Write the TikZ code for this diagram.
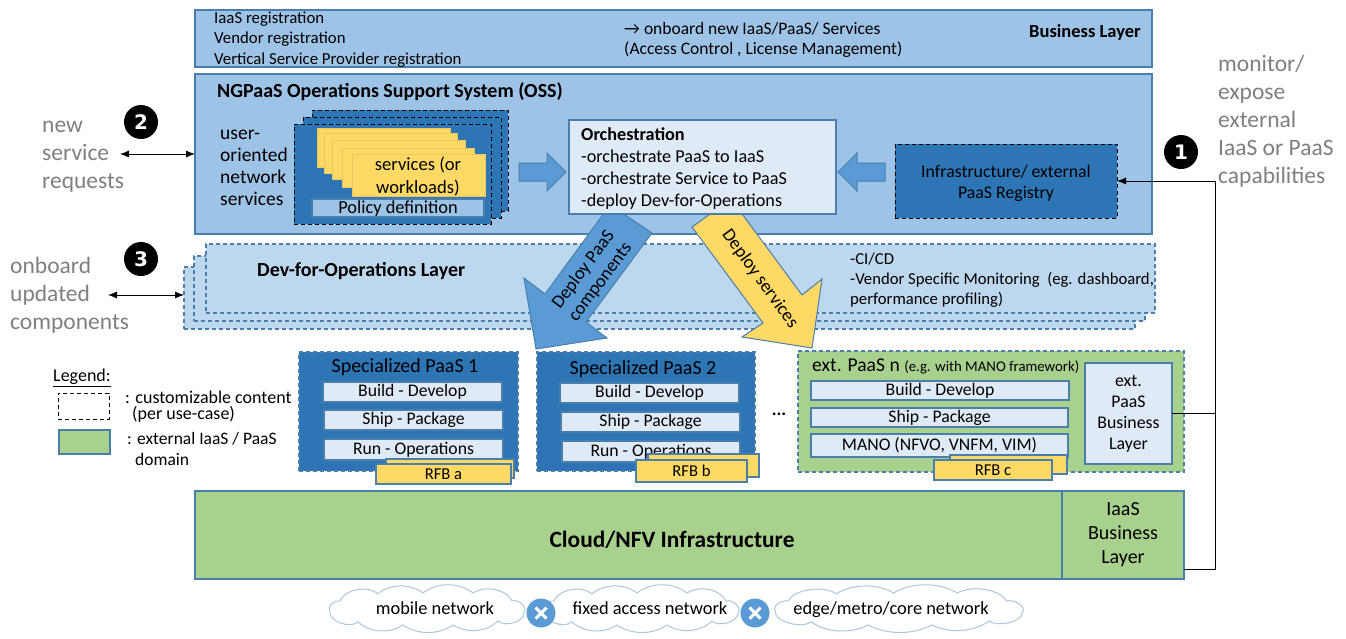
\documentclass[tikz,border=0pt]{standalone}
\usepackage{fontspec}
\setmainfont{Carlito}
\newfontfamily\numfont{DejaVu Sans}
\usetikzlibrary{arrows.meta}
\definecolor{sky}{HTML}{9DC3E6}
\definecolor{deep}{HTML}{2E75B6}
\definecolor{mid}{HTML}{5B9BD5}
\definecolor{pale}{HTML}{BDD7EE}
\definecolor{lite}{HTML}{DEEBF7}
\definecolor{gold}{HTML}{FFD966}
\definecolor{leaf}{HTML}{A9D18E}
\definecolor{rim}{HTML}{4A7EAD}
\definecolor{ash}{HTML}{7F7F7F}
\newcommand{\fs}[2]{\fontsize{#1}{#2}\selectfont}
\newcommand{\puffs}[3]{\draw[line width=1pt, draw=rim!45, fill=white, shift={(#1,#2)}, xscale=#3, yscale=0.8]
        (-98,3) to[bend left=70] (-88,-10) to[bend left=60] (-50,-19) to[bend left=45] (-5,-20) to[bend left=45] (45,-20)
        to[bend left=55] (84,-10) to[bend left=75] (96,5) to[bend left=70] (70,15) to[bend left=45] (25,20)
        to[bend left=40] (-25,20) to[bend left=45] (-70,16) to[bend left=75] cycle;}
\begin{document}
\begin{tikzpicture}[x=1pt,y=-1pt,>={Latex[length=9pt,width=7pt]}]
        \useasboundingbox (0,0) rectangle (1346,638);
        \tikzset{bx/.style={draw=rim, line width=1.3pt, anchor=north west, inner sep=0pt, outer sep=0pt, align=center, font=\fs{18}{22}},
                 dsh/.style={dash pattern=on 4pt off 3pt},
                 lbl/.style={anchor=west, inner sep=0pt, align=left, font=\fs{16.8}{20.5}},
                 gry/.style={anchor=west, inner sep=0pt, align=left, text=ash, font=\fs{23.5}{28}},
                 num/.style={circle, fill=black, text=white, minimum size=34pt, inner sep=0pt, font=\numfont\bfseries\fs{20}{20}},
                 svc/.style={bx, fill=gold, draw=gold!92!black, line width=0.6pt},
                 stp/.style={bx, fill=lite, font=\fs{17.7}{20}},
                 rfb/.style={bx, fill=gold, font=\fs{16.6}{20}},
                 stk/.style={bx, fill=deep, draw=black, line width=1pt, dsh},
                 pas/.style={bx, fill=deep, draw=rim, dsh},
                 dev/.style={bx, fill=pale, dsh},
                 blk/.style={fill=mid, draw=rim, line width=1pt},
                 ntx/.style={inner sep=0pt, font=\fs{18.4}{20}},
                 xsw/.style={circle, fill=mid, minimum size=29pt, inner sep=0pt}}
        %
        % business layer
        \draw (195,10) node[bx, fill=sky, minimum width=957, minimum height=57](BL){};
        \draw (214,39.5) node[lbl](R){IaaS registration\\Vendor registration\\Vertical Service Provider registration};
        \draw (624,40) node[lbl, font=\fs{17.5}{20}](O){→ onboard new IaaS/PaaS/ Services\\(Access Control , License Management)};
        \draw (1029,32) node[lbl, font=\bfseries\fs{18.5}{20}](BT){Business Layer};
        %
        % oss
        \draw (195,74) node[bx, fill=sky, minimum width=957, minimum height=160](OSS){};
        \draw (217,92) node[lbl, font=\bfseries\fs{20}{20}](OT){NGPaaS Operations Support System (OSS)};
        \draw (220,168) node[lbl, font=\fs{19.5}{21.8}](U){user-\\oriented\\network\\services};
        %
        \draw (312,110) node[stk, minimum width=196, minimum height=101](S3){};
        \draw (303,117) node[stk, minimum width=198, minimum height=101](S2){};
        \draw (294,124) node[stk, minimum width=197, minimum height=100](S1){};
        \draw (317,128) node[svc, minimum width=133, minimum height=39](W4){};
        \draw (324,133) node[svc, minimum width=133, minimum height=40](W3){};
        \draw (332,140) node[svc, minimum width=133, minimum height=39](W2){};
        \draw (342,148) node[svc, minimum width=132, minimum height=39](W1){};
        \draw (352,154) node[svc, minimum width=133, minimum height=42](W0){};
        \draw (418,176) node[inner sep=0pt, align=center, font=\fs{18.6}{23}](WT){services (or\\workloads)};
        \draw (312,199) node[bx, fill=sky, minimum width=172, minimum height=18](PD){};
        \draw (398,209) node[inner sep=0pt, font=\fs{18.4}{20}](PDT){Policy definition};
        %
        \draw[blk] (519,163) -- (547,163) -- (547,153) -- (566,172) -- (547,191) -- (547,181) -- (519,181) -- cycle;
        \draw[blk] (885,163) -- (857,163) -- (857,153) -- (838,172) -- (857,191) -- (857,181) -- (885,181) -- cycle;
        \draw (895,144) node[bx, fill=deep, draw=black, line width=1pt, dsh, minimum width=222, minimum height=74](REG){};
        \draw (1006,183) node[inner sep=0pt, align=center, font=\fs{17.8}{21}](REGT){Infrastructure/ external\\PaaS Registry};
        %
        % dev-for-operations layer
        \draw (184,267) node[dev, minimum width=951, minimum height=62](D3){};
        \draw (194,256) node[dev, minimum width=951, minimum height=65](D2){};
        \draw (206,244) node[dev, minimum width=949, minimum height=69](D1){};
        \draw (257,271) node[lbl, font=\bfseries\fs{20}{20}](DT){Dev-for-Operations Layer};
        \draw (850,280) node[lbl, font=\fs{16.7}{20}](DL){-CI/CD\\-Vendor Specific Monitoring~ (eg. dashboard,\\performance profiling)};
        %
        % deploy arrows
        \draw[blk] (610,205) -- (652,233) -- (586,322) -- (607,338) -- (536,349) -- (524,278) -- (545,294) -- cycle;
        \draw[fill=gold, draw=rim, line width=1pt] (692,227) -- (731,199) -- (802,295) -- (822,279) -- (812,348) -- (742,337) -- (763,323) -- cycle;
        \draw (592,276) node[rotate=53.5, inner sep=0pt, align=center, font=\fs{18.5}{21}](DP){Deploy PaaS\\components};
        \draw (760,279) node[rotate=-54, inner sep=0pt, font=\fs{18.5}{21}](DS){Deploy services};
        %
        % orchestration
        \draw (569,120) node[bx, fill=lite, minimum width=267, minimum height=94](ORC){};
        \draw (581,168.5) node[lbl, font=\fs{18.2}{21.8}](OX){\textbf{Orchestration}\\-orchestrate PaaS to IaaS\\-orchestrate Service to PaaS\\-deploy Dev-for-Operations};
        %
        % paas 1
        \draw (299,352) node[pas, minimum width=219, minimum height=119](P1){};
        \draw (405,367) node[inner sep=0pt, font=\fs{20}{20}](P1T){Specialized PaaS 1};
        \draw (323,382) node[stp, minimum width=179, minimum height=20](B1){Build - Develop};
        \draw (324,410) node[stp, minimum width=179, minimum height=20](C1){Ship - Package};
        \draw (324,439) node[stp, minimum width=179, minimum height=21](E1){Run - Operations};
        \draw (386,459) node[rfb, minimum width=128, minimum height=19](F1){};
        \draw (376,464) node[rfb, minimum width=135, minimum height=20](G1){RFB a};
        %
        % paas 2
        \draw (537,352) node[pas, minimum width=218, minimum height=119](P2){};
        \draw (643,369) node[inner sep=0pt, font=\fs{20}{20}](P2T){Specialized PaaS 2};
        \draw (560,383) node[stp, minimum width=179, minimum height=20](B2){Build - Develop};
        \draw (561,412) node[stp, minimum width=179, minimum height=20](C2){Ship - Package};
        \draw (562,441) node[stp, minimum width=178, minimum height=21](E2){Run - Operations};
        \draw (648,454) node[rfb, minimum width=111, minimum height=23](F2){};
        \draw (636,460) node[rfb, minimum width=111, minimum height=22](G2){RFB b};
        \draw (779,414) node[inner sep=0pt, font=\bfseries\fs{18}{20}](DOT){...};
        %
        % ext paas
        \draw (798,351) node[bx, fill=leaf, dsh, minimum width=386, minimum height=121](P3){};
        \draw (812,366) node[lbl, font=\fs{19.6}{20}](P3T){ext. PaaS n {\fs{14.8}{20}(e.g. with MANO framework)}};
        \draw (811,381) node[stp, minimum width=258, minimum height=19](B3){Build - Develop};
        \draw (811,408) node[stp, minimum width=257, minimum height=19](C3){Ship - Package};
        \draw (811,434) node[stp, minimum width=257, minimum height=23](E3){MANO (NFVO, VNFM, VIM)};
        \draw (950,455) node[rfb, minimum width=117, minimum height=19](F3){};
        \draw (934,460) node[rfb, minimum width=118, minimum height=20](G3){RFB c};
        \draw (1085,363) node[stp, minimum width=87, minimum height=101, font=\fs{17.8}{21}](EB){ext.\\PaaS\\Business\\Layer};
        %
        % infrastructure
        \draw (195,491) node[bx, fill=leaf, minimum width=867, minimum height=88](CF){};
        \draw (672,540) node[inner sep=0pt, font=\bfseries\fs{23.4}{24}](CFT){Cloud/NFV Infrastructure};
        \draw (1062,491) node[bx, fill=leaf, minimum width=122, minimum height=88, font=\fs{20}{24}](IB){IaaS\\Business\\Layer};
        %
        % connectors
        \coordinate (IO) at (1184,569);
        \coordinate (VT) at (1215,181);
        \draw[->, line width=0.8pt] (IO) -| (VT) -- (REG.east);
        \draw[line width=0.8pt] (EB.east) -- (EB.east -| VT);
        %
        % outer labels
        \draw (1218,121) node[gry](MON){monitor/\\expose\\external\\IaaS or PaaS\\capabilities};
        \draw (42,157) node[gry](NEW){new\\service\\requests};
        \draw (10,295) node[gry](ONB){onboard\\updated\\components};
        \draw (1181,152) node[num](N1){1};
        \draw (141,122) node[num](N2){2};
        \draw (141,259) node[num](N3){3};
        \coordinate (NE) at (120,154);
        \coordinate (OE) at (108,295);
        \draw[<->, line width=0.8pt] (NE) -- (NE -| OSS.west);
        \draw[<->, line width=0.8pt] (OE) -- (OE -| D3.west);
        %
        % legend
        \draw (53,378) node[lbl, font=\fs{18}{20}](LG){\underline{Legend:}};
        \draw (58,393) node[bx, draw=black, line width=1pt, dsh, minimum width=51, minimum height=26](LD){};
        \draw (125,407) node[lbl, font=\fs{18}{16}](LDT){: customizable content\\\hspace*{7pt}(per use-case)};
        \draw (59,430) node[bx, fill=leaf, minimum width=51, minimum height=24](LE){};
        \draw (127,449) node[lbl, font=\fs{17.5}{21}](LET){: external IaaS / PaaS\\\hspace*{8pt}domain};
        %
        % networks
        \puffs{428}{609}{1}
        \puffs{642}{609}{1}
        \puffs{900}{609}{1.27}
        \draw (435,608) node[ntx](NAT){mobile network};
        \draw (650,608) node[ntx](NBT){fixed access network};
        \draw (891,610) node[ntx](NCT){edge/metro/core network};
        \draw (541,613) node[xsw](XA){};
        \draw (755,613) node[xsw](XB){};
        \draw[white, line width=3pt] (XA.north west) ++(5,5) -- ++(11,11) ++(-11,0) -- ++(11,-11);
        \draw[white, line width=3pt] (XB.north west) ++(5,5) -- ++(11,11) ++(-11,0) -- ++(11,-11);
    \end{tikzpicture}
\end{document}
